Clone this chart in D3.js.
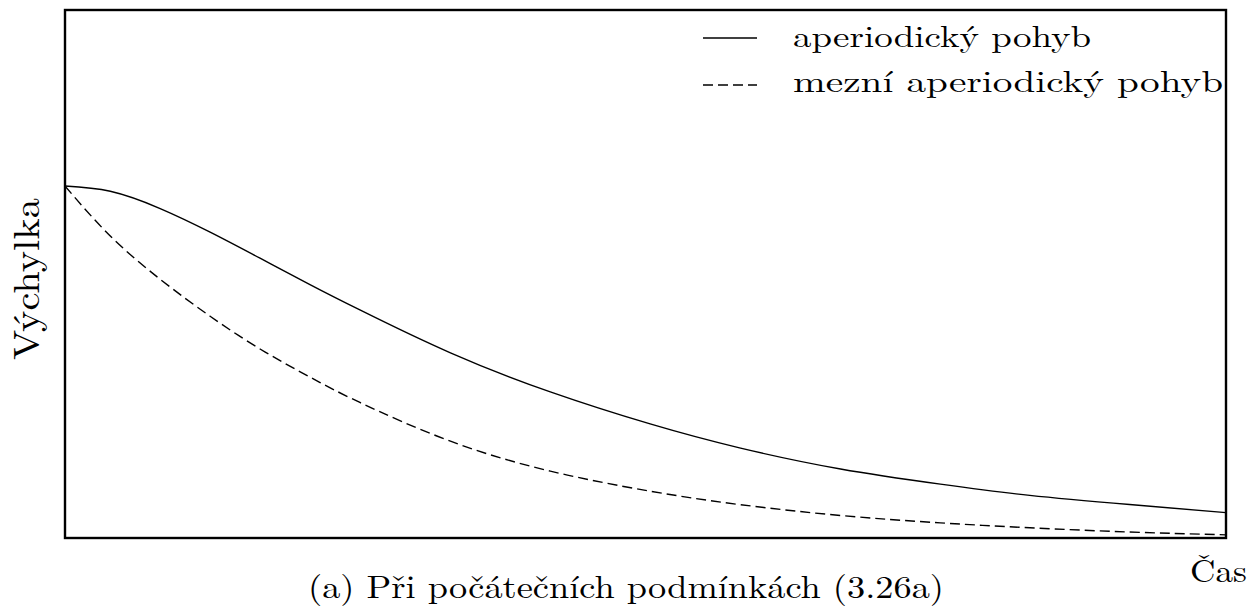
<!DOCTYPE html>
<html>
<head>
<meta charset="utf-8">
<script src="https://cdn.jsdelivr.net/npm/d3@7"></script>
<style>
  html, body { margin: 0; padding: 0; background: #fff; }
  svg { display: block; }
  text { font-family: "Latin Modern Roman", "CMU Serif", "DejaVu Serif", serif; fill: #000; }
</style>
</head>
<body>
<svg id="chart" width="1251" height="606"></svg>
<script>
// Values (time in arbitrary units, deflection normalised to 1 at start)
const time      = [0, 0.39, 0.82, 1.25, 1.68, 2.11, 2.54, 3.32, 4.18, 5.04, 5.81, 6.68, 7.54, 8.31, 9.17, 10];
const aperiodic = [1, 0.985, 0.936, 0.869, 0.795, 0.720, 0.648, 0.526, 0.415, 0.324, 0.256, 0.196, 0.153, 0.121, 0.095, 0.072];
const critical  = [1, 0.858, 0.735, 0.630, 0.537, 0.457, 0.385, 0.275, 0.190, 0.133, 0.095, 0.064, 0.043, 0.029, 0.017, 0.009];
const seriesNames = ['aperiodický pohyb', 'mezní aperiodický pohyb'];
const xLabel = 'Čas';
const yLabel = 'Výchylka';
const caption = '(a) Při počátečních podmínkách (3.26a)';

// Layout
const plot = { left: 65, top: 10, right: 1226, bottom: 538 };
const dash = '10,5';

const svg = d3.select('#chart');

const x = d3.scaleLinear().domain([0, 10]).range([plot.left, plot.right]);
const y = d3.scaleLinear().domain([0, 1.5]).range([plot.bottom, plot.top]);

const series = [
    { name: seriesNames[0], values: aperiodic, dash: null },
    { name: seriesNames[1], values: critical, dash: dash }
];

const line = d3.line()
    .x(d => x(d[0]))
    .y(d => y(d[1]))
    .curve(d3.curveNatural);

// Curves
svg.selectAll('.curve')
    .data(series)
    .enter()
    .append('path')
    .attr('class', 'curve')
    .attr('d', s => line(time.map((t, i) => [t, s.values[i]])))
    .attr('fill', 'none')
    .attr('stroke', '#000')
    .attr('stroke-width', 1.4)
    .attr('stroke-dasharray', s => s.dash);

// Frame
svg.append('rect')
    .attr('x', plot.left)
    .attr('y', plot.top)
    .attr('width', plot.right - plot.left)
    .attr('height', plot.bottom - plot.top)
    .attr('fill', 'none')
    .attr('stroke', '#000')
    .attr('stroke-width', 2.4);

// Text helper: stretch to the measured width of the original
function addText(str, px, py, size, width, rotate) {
    const t = svg.append('text')
        .attr('font-size', size)
        .attr('textLength', width)
        .attr('lengthAdjust', 'spacingAndGlyphs')
        .text(str);
    if (rotate) t.attr('transform', `translate(${px},${py}) rotate(-90)`);
    else t.attr('x', px).attr('y', py);
    return t;
}

// Legend
const legend = svg.append('g');
const legendRows = [
    { y: 38, base: 47, width: 298 },
    { y: 85, base: 92, width: 430 }
];
series.forEach((s, i) => {
    const r = legendRows[i];
    legend.append('line')
        .attr('x1', 703).attr('x2', 757)
        .attr('y1', r.y).attr('y2', r.y)
        .attr('stroke', '#000')
        .attr('stroke-width', 1.4)
        .attr('stroke-dasharray', s.dash);
    addText(s.name, 793, r.base, 30, r.width);
});

// Axis labels and caption
addText(yLabel, 39, 360, 37, 162, true);
addText(xLabel, 1190, 582, 32, 57);
addText(caption, 308, 598, 32, 636);
</script>
</body>
</html>
